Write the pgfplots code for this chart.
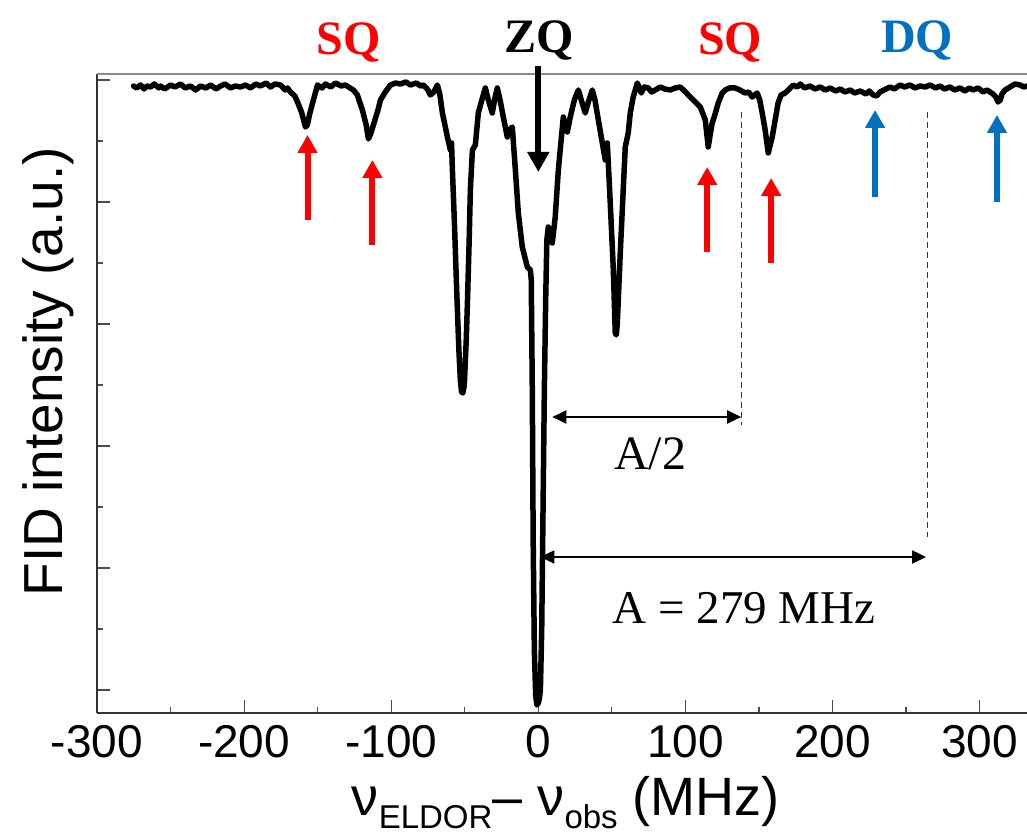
\documentclass[border=0pt]{standalone}
\usepackage{fontspec}
\setmainfont{Liberation Sans}
\newfontfamily\tnr{Liberation Serif}
\usepackage{pgfplots}
\pgfplotsset{compat=1.18}
\usetikzlibrary{arrows.meta}
\definecolor{sqred}{HTML}{FF0000}
\definecolor{dqblue}{HTML}{0070C0}
\pgfplotstableread{
x y
-275.1 604
-273 602
-270.4 605
-268 601
-266 604
-263.6 603
-261 606
-258 602
-256.8 604
-254 601
-250 605
-247 603
-243.2 606
-240 602
-236.4 604
-233 600
-229.6 604
-226 602
-222.8 605
-219 601
-216 604
-213 606
-209.2 602
-206 604
-202.4 603
-199 605
-195.7 602
-192 606
-188.9 604
-185 607
-182.1 603
-179 606
-175.3 605
-172 600
-170.5 602
-168.5 598
-165.5 594
-163.7 588
-161 578
-158.3 563
-157 565
-155.6 575
-152.9 590
-150.1 605
-147 602
-144.7 606
-141 603
-137.9 607
-134 604
-131.1 605
-128 602
-125.7 600
-123 595
-119.6 580
-117 565
-115.5 551
-114 556
-112.1 565
-109 580
-107.3 590
-104 598
-100.5 605
-97 607
-93.8 606
-90 608
-87 605
-83 607
-80 604
-78.1 605
-75 600
-73.4 595
-71 598
-68.6 605
-67 596
-65.2 577
-61.8 553
-59.8 540
-59 547
-58.4 520
-57.1 470
-55.5 400
-54 340
-53 310
-52.2 298
-51.3 297
-50.3 305
-49 350
-48.2 387
-47 450
-46.2 500
-44.8 540
-42.8 545
-40.8 577
-38 592
-36 602
-34 590
-31.3 577
-29.5 592
-27.9 602
-26 590
-23.8 573
-21.1 553
-19.5 560
-17.7 563
-15.6 520
-13.6 477
-10.9 443
-7.5 423
-5.4 420
-4.8 410
-4.1 300
-3.5 150
-2.7 40
-1.8 -5
-1.0 -15
0.0 -13
0.8 -8
1.4 0
2.3 60
3.2 180
4.1 300
5.0 390
5.8 450
6.8 463
8.2 455
9.5 447
11.5 473
13.6 520
17.0 573
19.7 558
21.7 573
24.5 590
27.2 600
29.2 590
31.9 577
34.0 588
36.7 600
38.5 590
40.8 570
43.5 547
45.5 530
46.9 547
48.9 487
51.0 420
52.3 357
53.0 355
53.7 367
55.7 437
59.1 543
61.1 557
62.5 577
64.5 593
67.3 607
70.0 597
72 603
74.7 602
77 598
79.5 600
82.9 603
86 601
89.7 600
93 602
96.5 603
100 598
103.3 593
106.7 588
110.1 583
113.5 570
115.5 543
116.8 555
118.2 567
120 575
122.3 587
125 597
127.0 600
130 602
133.8 602
137 600
140.6 597
143 598
145.4 593
148.8 597
150.5 590
152.2 577
154.2 560
156.3 537
157.6 545
159.0 553
161 570
163.0 587
165 595
167.8 597
170 600
173.2 605
176 603
178.0 606
181 602
184.8 604
188 601
191.6 603
195 600
198.4 602
202 599
205.2 601
208.5 598
212.0 600
215 597
218.8 599
222.8 596
225 599
227.6 595
230 594
232.3 598
235 600
239.1 603
242 601
245.9 605
249 603
252.7 605
256 602
259.5 604
263 603
266.3 605
270 602
273.1 604
276 601
279.9 603
283 600
286.7 602
290 599
293 602
295.5 600
299 602
302.3 598
305 600
309.1 596
311 593
312.5 588
314 590
315.2 596
317.3 600
320.7 603
324.0 606
327.4 605
330 603
332.2 604
}\spectrum
\begin{document}
\begin{tikzpicture}
\path[use as bounding box] (0pt,0pt) rectangle (1027pt,838pt);
\begin{axis}[
  at={(97pt,125pt)}, anchor=south west,
  scale only axis, width=930pt, height=639pt,
  xmin=-300, xmax=332.2, ymin=-23, ymax=616,
  axis x line*=bottom, axis y line*=left,
  axis line style={black!80, line width=1.5pt},
  tick align=inside,
  xtick={-300,-200,-100,0,100,200,300},
  xticklabels={-300,-200,-100,0,100,200,300},
  minor xtick={-250,-150,-50,50,150,250},
  ytick={0,122,244,366,488,610},
  minor ytick={61,183,305,427,549},
  yticklabels={},
  major tick length=13pt, minor tick length=6pt,
  every tick/.style={black!70, line width=1.2pt},
  xticklabel style={font=\fontsize{46}{46}\selectfont, inner sep=0pt, anchor=north, yshift=-12pt},
  xlabel={ν\raisebox{-13pt}{\fontsize{33}{33}\selectfont ELDOR}– ν\raisebox{-13pt}{\fontsize{33}{33}\selectfont obs} (MHz)},
  xlabel style={font=\fontsize{54}{60}\selectfont, at={(axis description cs:0.504,-0.160)}, anchor=base, inner sep=0pt},
  ylabel={FID intensity (a.u.)},
  ylabel style={font=\fontsize{55}{60}\selectfont, at={(axis description cs:-0.0376,0.534)}, anchor=base, inner sep=0pt},
  clip=false,
]
\draw[black!45, line width=1.5pt] (rel axis cs:0,1) -- (rel axis cs:1,1);
\addplot[black, line width=5.5pt, line join=round, line cap=round, no markers] table[x=x,y=y] {\spectrum};
% ZQ arrow
\draw[black, line width=6pt, -{Triangle[width=21pt,length=20pt]}] (axis cs:0,624) -- (axis cs:0,518);
% SQ arrows
\draw[sqred, line width=6pt, -{Triangle[width=19pt,length=18pt]}] (axis cs:-156.9,470) -- (axis cs:-156.9,555);
\draw[sqred, line width=6pt, -{Triangle[width=19pt,length=18pt]}] (axis cs:-112.8,445) -- (axis cs:-112.8,530);
\draw[sqred, line width=6pt, -{Triangle[width=19pt,length=18pt]}] (axis cs:114.8,438) -- (axis cs:114.8,523);
\draw[sqred, line width=6pt, -{Triangle[width=19pt,length=18pt]}] (axis cs:158.3,427) -- (axis cs:158.3,512);
% DQ arrows
\draw[dqblue, line width=6pt, -{Triangle[width=19pt,length=18pt]}] (axis cs:228.9,493) -- (axis cs:228.9,580);
\draw[dqblue, line width=6pt, -{Triangle[width=19pt,length=18pt]}] (axis cs:311.8,488) -- (axis cs:311.8,575);
% dashed guides
\draw[black!80, line width=1.2pt, dash pattern=on 6pt off 4pt] (axis cs:137.9,578) -- (axis cs:137.9,265);
\draw[black!80, line width=1.2pt, dash pattern=on 6pt off 4pt] (axis cs:264.3,578) -- (axis cs:264.3,153);
% double arrows
\draw[black, line width=2pt, {Triangle[width=13pt,length=14pt]}-{Triangle[width=13pt,length=14pt]}] (axis cs:9.5,273) -- (axis cs:137.9,273);
\draw[black, line width=2pt, {Triangle[width=13pt,length=14pt]}-{Triangle[width=13pt,length=14pt]}] (axis cs:1.4,133) -- (axis cs:263.6,133);
\node[anchor=base, font=\tnr\fontsize{48}{48}\selectfont] at (axis cs:76.1,220) {A/2};
\node[anchor=base, font=\tnr\fontsize{47}{47}\selectfont] at (axis cs:139.9,67) {A = 279 MHz};
% labels
\node[anchor=base, sqred, font=\tnr\bfseries\fontsize{48}{48}\selectfont] at (axis cs:-129.1,635) {SQ};
\node[anchor=base, black, font=\tnr\bfseries\fontsize{48}{48}\selectfont] at (axis cs:0.7,637) {ZQ};
\node[anchor=base, sqred, font=\tnr\bfseries\fontsize{48}{48}\selectfont] at (axis cs:130.4,635) {SQ};
\node[anchor=base, dqblue, font=\tnr\bfseries\fontsize{48}{48}\selectfont] at (axis cs:257.5,637) {DQ};
\end{axis}
\end{tikzpicture}
\end{document}
